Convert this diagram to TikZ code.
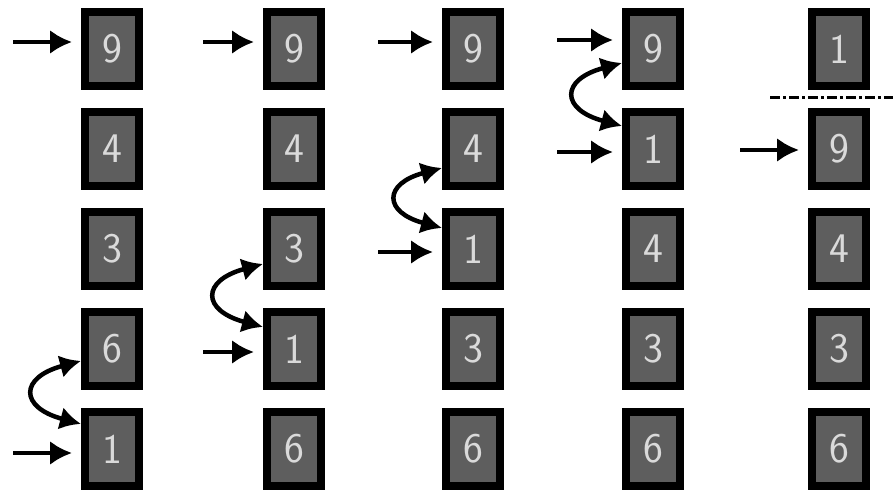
\documentclass[tikz,border=0pt]{standalone}
\usetikzlibrary{arrows.meta,positioning}
\definecolor{cellgray}{HTML}{5E5E5E}
\definecolor{celltext}{HTML}{DADADA}
\begin{document}
\begin{tikzpicture}[
  x=0.02cm,y=0.02cm,
  cell/.style={rectangle,draw=black,line width=0.16cm,fill=cellgray,minimum width=1.08cm,minimum height=1.48cm,inner sep=0pt,text=celltext,font=\fontsize{24}{26}\selectfont\sffamily},
  ptr/.style={-{Latex[length=4.4mm,width=4.8mm]},line width=0.08cm,shorten >=0.18cm},
  swp/.style={{Latex[length=4.2mm,width=4.6mm]}-{Latex[length=4.2mm,width=4.6mm]},line width=0.09cm,looseness=2.6},
  node distance=0.36cm]
  \useasboundingbox (0,0) rectangle (893,-499);
  % column 1
  \node[cell] (a1) at (112,-49) {9};
  \node[cell,below=of a1] (a2) {4};
  \node[cell,below=of a2] (a3) {3};
  \node[cell,below=of a3] (a4) {6};
  \node[cell,below=of a4] (a5) {1};
  % column 2
  \node[cell] (b1) at (294,-49) {9};
  \node[cell,below=of b1] (b2) {4};
  \node[cell,below=of b2] (b3) {3};
  \node[cell,below=of b3] (b4) {1};
  \node[cell,below=of b4] (b5) {6};
  % column 3
  \node[cell] (c1) at (473,-49) {9};
  \node[cell,below=of c1] (c2) {4};
  \node[cell,below=of c2] (c3) {1};
  \node[cell,below=of c3] (c4) {3};
  \node[cell,below=of c4] (c5) {6};
  % column 4
  \node[cell] (d1) at (653,-49) {9};
  \node[cell,below=of d1] (d2) {1};
  \node[cell,below=of d2] (d3) {4};
  \node[cell,below=of d3] (d4) {3};
  \node[cell,below=of d4] (d5) {6};
  % column 5
  \node[cell] (e1) at (839,-49) {1};
  \node[cell,below=of e1] (e2) {9};
  \node[cell,below=of e2] (e3) {4};
  \node[cell,below=of e3] (e4) {3};
  \node[cell,below=of e4] (e5) {6};
  % pointers
  \coordinate (pa1) at (13,-42);
  \coordinate (pa5) at (13,-453);
  \coordinate (pb1) at (203,-42);
  \coordinate (pb4) at (203,-352);
  \coordinate (pc1) at (378,-42);
  \coordinate (pc3) at (378,-252);
  \coordinate (pd1) at (557,-40);
  \coordinate (pd2) at (557,-152);
  \coordinate (pe2) at (740,-150);
  \draw[ptr] (pa1) -- (pa1 -| a1.west);
  \draw[ptr] (pa5) -- (pa5 -| a5.west);
  \draw[ptr] (pb1) -- (pb1 -| b1.west);
  \draw[ptr] (pb4) -- (pb4 -| b4.west);
  \draw[ptr] (pc1) -- (pc1 -| c1.west);
  \draw[ptr] (pc3) -- (pc3 -| c3.west);
  \draw[ptr] (pd1) -- (pd1 -| d1.west);
  \draw[ptr] (pd2) -- (pd2 -| d2.west);
  \draw[ptr] (pe2) -- (pe2 -| e2.west);
  % swaps
  \draw[swp] ([yshift=-0.24cm]a4.west) to[out=195,in=165] ([yshift=0.5cm]a5.west);
  \draw[swp] ([yshift=-0.3cm]b3.west) to[out=195,in=165] ([yshift=0.44cm]b4.west);
  \draw[swp] ([yshift=-0.38cm]c2.west) to[out=195,in=165] ([yshift=0.42cm]c3.west);
  \draw[swp] ([yshift=-0.28cm]d1.west) to[out=195,in=165] ([yshift=0.46cm]d2.west);
  % boundary of sorted part
  \coordinate (s1) at (770,-98);
  \coordinate (s2) at (893,-98);
  \draw[line width=0.06cm,dash pattern=on 0.2cm off 0.06cm on 0.06cm off 0.06cm] (s1) -- (s2);
\end{tikzpicture}
\end{document}
